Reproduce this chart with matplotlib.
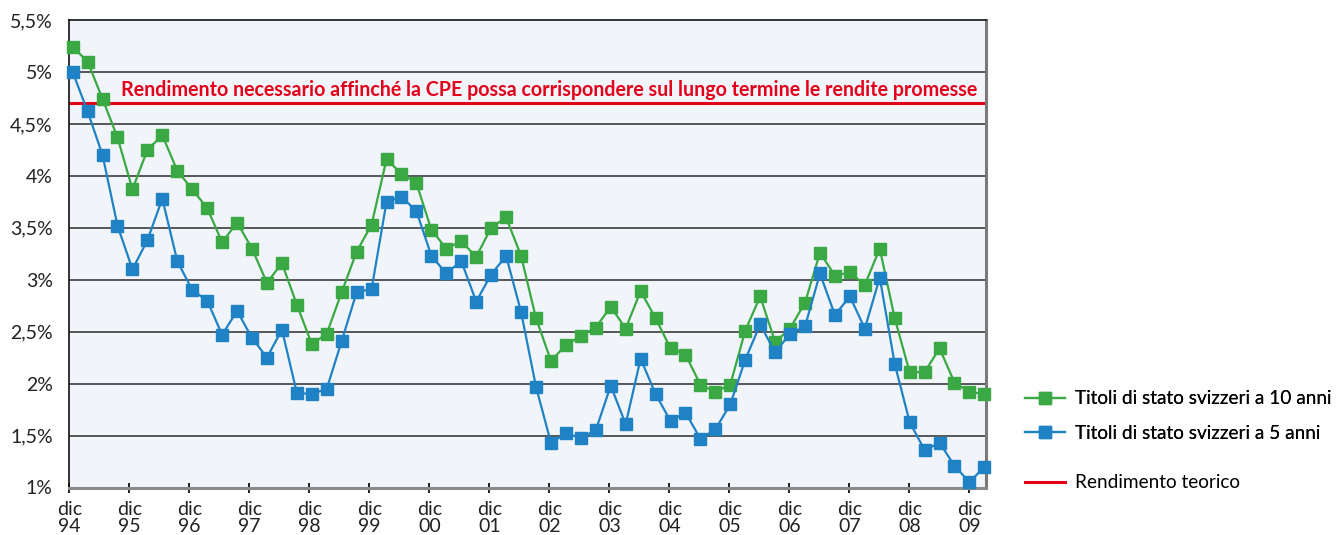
import numpy as np
import matplotlib.pyplot as plt
from matplotlib.lines import Line2D

plt.rcParams['font.family'] = ['Lato', 'DejaVu Sans']

# quarterly yields, dic 94 .. mar 10
rend_10y = [5.24, 5.10, 4.74, 4.37, 3.87, 4.25, 4.39, 4.05, 3.87, 3.69,
            3.36, 3.55, 3.30, 2.97, 3.16, 2.76, 2.38, 2.48, 2.88, 3.27,
            3.53, 4.16, 4.02, 3.93, 3.48, 3.30, 3.37, 3.22, 3.50, 3.60,
            3.23, 2.63, 2.22, 2.37, 2.46, 2.54, 2.74, 2.53, 2.89, 2.63,
            2.34, 2.28, 1.99, 1.92, 1.99, 2.51, 2.84, 2.40, 2.53, 2.78,
            3.26, 3.04, 3.07, 2.95, 3.30, 2.63, 2.11, 2.11, 2.34, 2.01,
            1.92, 1.90]
rend_5y = [5.00, 4.62, 4.20, 3.52, 3.10, 3.38, 3.78, 3.18, 2.90, 2.80,
           2.47, 2.70, 2.44, 2.25, 2.52, 1.91, 1.90, 1.95, 2.41, 2.88,
           2.91, 3.75, 3.80, 3.66, 3.23, 3.06, 3.18, 2.79, 3.05, 3.23,
           2.69, 1.97, 1.43, 1.52, 1.48, 1.55, 1.98, 1.61, 2.24, 1.90,
           1.64, 1.72, 1.47, 1.56, 1.80, 2.23, 2.57, 2.30, 2.48, 2.55,
           3.06, 2.66, 2.84, 2.53, 3.02, 2.19, 1.63, 1.36, 1.43, 1.21,
           1.05, 1.20]
rend_teorico = 4.7
anni = ['94', '95', '96', '97', '98', '99', '00', '01', '02', '03',
        '04', '05', '06', '07', '08', '09']
y_ticks = [1, 1.5, 2, 2.5, 3, 3.5, 4, 4.5, 5, 5.5]
y_labels = ['1%', '1,5%', '2%', '2,5%', '3%', '3,5%', '4%', '4,5%', '5%', '5,5%']

verde = '#3aa843'
blu = '#1f82c4'
rosso = '#e2001a'

# x in years from dic 94
x = 0.056 + np.arange(len(rend_10y)) * 0.2491

fig = plt.figure(figsize=(13.36, 5.35), dpi=100)
ax = fig.add_axes([69.3 / 1336, 1 - 487.5 / 535, (986 - 69.3) / 1336, (487.5 - 20) / 535])
ax.set_facecolor('#f1f5fa')

for yv in y_ticks[1:-1]:
    ax.axhline(yv, color='#4a4a4a', lw=1.3, zorder=1)

ax.axhline(rend_teorico, color=rosso, lw=2.2, zorder=2)
ax.text(15.13, 4.83,
        'Rendimento necessario affinché la CPE possa corrispondere sul lungo termine le rendite promesse',
        color=rosso, fontsize=14.1, fontweight='bold', ha='right', va='center', zorder=3)

ax.plot(x, rend_10y, color=verde, lw=1.6, marker='s', ms=8.6, clip_on=False, zorder=4)
ax.plot(x, rend_5y, color=blu, lw=1.6, marker='s', ms=8.6, clip_on=False, zorder=5)

ax.set_xlim(0, 15.278)
ax.set_ylim(1, 5.5)
ax.set_yticks(y_ticks)
ax.set_yticklabels(y_labels, fontsize=14, color='#222222')
ax.tick_params(axis='y', length=0, pad=12)
ax.set_xticks(np.arange(len(anni)))
ax.set_xticklabels(['dic\n' + a for a in anni], fontsize=14, color='#222222', linespacing=1.02)
ax.tick_params(axis='x', direction='inout', length=7, width=1.3, color='#111111', pad=6)

ax.spines['left'].set_color('#111111')
ax.spines['left'].set_linewidth(1.2)
ax.spines['top'].set_color('#111111')
ax.spines['top'].set_linewidth(1.2)
ax.spines['right'].set_color('#7a7a7a')
ax.spines['right'].set_linewidth(2.2)
ax.spines['bottom'].set_color('#8a8a8a')
ax.spines['bottom'].set_linewidth(2.2)

h1 = [Line2D([], [], color=verde, lw=1.6, marker='s', ms=8),
      Line2D([], [], color=blu, lw=1.6, marker='s', ms=8)]
leg1 = fig.legend(h1, ['Titoli di stato svizzeri a 10 anni', 'Titoli di stato svizzeri a 5 anni'],
                  loc='center left', bbox_to_anchor=(1025 / 1336, 1 - 416 / 535), frameon=False,
                  fontsize=13.7, handlelength=2.1, handletextpad=0.55, labelspacing=0.9,
                  borderpad=0, borderaxespad=0)
leg2 = fig.legend([Line2D([], [], color=rosso, lw=2.2)], ['Rendimento teorico'],
                  loc='center left', bbox_to_anchor=(1025 / 1336, 1 - 483 / 535), frameon=False,
                  fontsize=13.7, handlelength=2.1, handletextpad=0.55,
                  borderpad=0, borderaxespad=0)
fig.add_artist(leg1)

fig.savefig('out.png', dpi=100)
